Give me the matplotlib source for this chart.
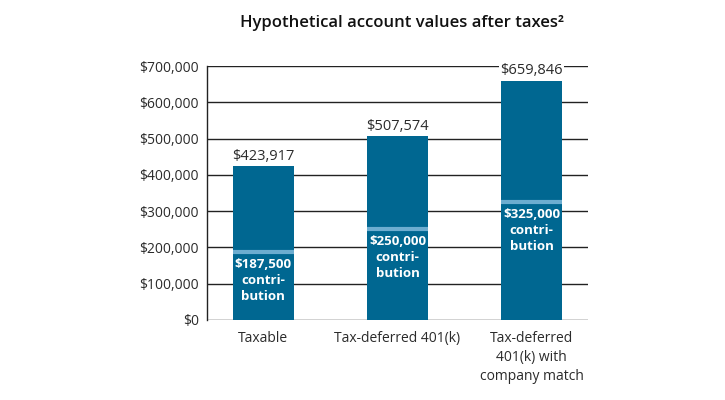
import numpy as np
import matplotlib
matplotlib.use("Agg")
import matplotlib.pyplot as plt

plt.rcParams['font.family'] = ['Open Sans', 'DejaVu Sans']

# data
categories = ["Taxable", "Tax-deferred 401(k)", "Tax-deferred\n401(k) with\ncompany match"]
totals = [423917, 507574, 659846]
contribs = [187500, 250000, 325000]
yticks = [0, 100000, 200000, 300000, 400000, 500000, 600000, 700000]

bar_color = "#006791"
stripe_color = "#6cadd0"
text_color = "#2b2b2b"

fig = plt.figure(figsize=(7.25, 4), dpi=100)
ax = fig.add_axes([0.2855, 0.2, 0.5255, 0.635])

x = np.arange(len(categories))
w = 0.45
ax.bar(x, totals, width=w, color=bar_color, zorder=2)
ax.hlines(contribs, x - w / 2, x + w / 2, colors=stripe_color, linewidth=3, zorder=3)

for xi, t, c in zip(x, totals, contribs):
    ax.text(xi, t + 6000, "${:,}".format(t), ha="center", va="bottom",
            fontsize=10.5, color=text_color, zorder=4,
            bbox=dict(facecolor="white", edgecolor="none", pad=1))
    ax.text(xi, c - 16000, "${:,}\ncontri-\nbution".format(c), ha="center", va="top",
            fontsize=9.5, fontweight="bold", color="white", linespacing=1.3, zorder=4)

ax.set_xlim(-0.42, 2.42)
ax.set_ylim(0, 700000)
ax.set_yticks(yticks)
ax.set_yticklabels(["${:,}".format(v) for v in yticks], fontsize=10, color=text_color)
ax.set_xticks(x)
ax.set_xticklabels(categories, fontsize=10, color=text_color, linespacing=1.35)
ax.tick_params(axis="both", length=0)
ax.tick_params(axis="y", pad=6)
ax.tick_params(axis="x", pad=8)

ax.yaxis.grid(True, color="#222222", linewidth=1, zorder=0)
ax.set_axisbelow(True)
for s in ["top", "right", "bottom"]:
    ax.spines[s].set_visible(False)
ax.spines["left"].set_color("#222222")
ax.spines["left"].set_linewidth(1)

fig.text(0.555, 0.943, "Hypothetical account values after taxes\u00b2", ha="center", va="center",
         fontsize=12, fontweight="semibold", color="#111111")

fig.savefig("out.png", dpi=100)
